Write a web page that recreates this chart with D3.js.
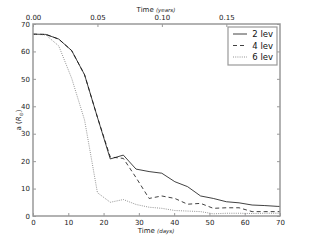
<!DOCTYPE html>
<html>
<head>
<meta charset="utf-8">
<script src="https://cdn.jsdelivr.net/npm/d3@7"></script>
<style>
  body { margin: 0; background: #fff; }
  text { font-family: "DejaVu Sans", sans-serif; }
</style>
</head>
<body>
<div id="chart"></div>
<script>
// sampled every 0.01 yr
const days = [0, 3.65, 7.3, 10.96, 14.61, 18.26, 21.9, 25.6, 29.2, 32.9, 36.5, 40.2, 43.8, 47.5, 51.1, 54.8, 58.4, 62.1, 65.7, 69.4, 70];
const lev2 = [66.3, 66.2, 64.5, 60.3, 51.5, 36.0, 20.8, 22.2, 17.1, 16.2, 15.6, 12.5, 10.7, 7.3, 6.4, 5.2, 4.8, 4.0, 3.8, 3.5, 3.5];
const lev4 = [66.3, 66.2, 64.5, 60.3, 51.5, 36.0, 21.5, 21.0, 14.0, 6.4, 7.3, 6.4, 4.3, 4.6, 2.8, 3.0, 3.0, 1.6, 1.6, 1.6, 1.6];
const lev6 = [66.3, 66.0, 62.0, 50.2, 35.0, 8.5, 5.0, 6.0, 4.2, 3.2, 2.8, 2.0, 1.8, 1.6, 0.8, 1.0, 1.0, 0.9, 1.0, 1.0, 1.0];
const seriesNames = ["2 lev", "4 lev", "6 lev"];
const xTicks = [0, 10, 20, 30, 40, 50, 60, 70];
const yTicks = [0, 10, 20, 30, 40, 50, 60, 70];
const yearTicks = [0, 0.05, 0.10, 0.15];

const width = 313, height = 240;
const margin = {left: 33, right: 33, top: 24, bottom: 24};

const svg = d3.select("#chart").append("svg")
    .attr("width", width)
    .attr("height", height);

const x = d3.scaleLinear().domain([0, 70]).range([margin.left, width - margin.right]);
const y = d3.scaleLinear().domain([0, 70]).range([height - margin.bottom, margin.top]);
const xYears = d3.scaleLinear().domain([0, 70 / 365.25]).range(x.range());

const spine = "#999";
const fs = 7;

function styleAxis(g) {
    g.select(".domain").remove();
    g.selectAll(".tick line").attr("stroke", "#555").attr("stroke-width", 0.6);
    g.selectAll(".tick text").style("font-size", fs + "px").attr("fill", "#222");
}

// bottom
svg.append("g")
    .attr("transform", `translate(0,${y(0)})`)
    .call(d3.axisBottom(x).tickValues(xTicks).tickFormat(d3.format("d")).tickSizeInner(-3).tickSizeOuter(0).tickPadding(4))
    .call(styleAxis);
// top (years)
svg.append("g")
    .attr("transform", `translate(0,${y(70)})`)
    .call(d3.axisTop(xYears).tickValues(yearTicks).tickFormat(d3.format(".2f")).tickSizeInner(-3).tickSizeOuter(0).tickPadding(4))
    .call(styleAxis);
// left
svg.append("g")
    .attr("transform", `translate(${x(0)},0)`)
    .call(d3.axisLeft(y).tickValues(yTicks).tickFormat(d3.format("d")).tickSizeInner(-3).tickSizeOuter(0).tickPadding(3))
    .call(styleAxis);
// right
svg.append("g")
    .attr("transform", `translate(${x(70)},0)`)
    .call(d3.axisRight(y).tickValues(yTicks).tickFormat("").tickSizeInner(-3).tickSizeOuter(0))
    .call(styleAxis);

// lines
const lineGen = d3.line().x((d, i) => x(days[i])).y(d => y(d));
const styles = [
    {data: lev2, color: "#111", dash: null, w: 0.8},
    {data: lev4, color: "#111", dash: "4,3", w: 0.8},
    {data: lev6, color: "#777", dash: "1,1.2", w: 0.8}
];
styles.forEach(s => {
    svg.append("path")
        .datum(s.data)
        .attr("d", lineGen)
        .attr("fill", "none")
        .attr("stroke", s.color)
        .attr("stroke-width", s.w)
        .attr("stroke-dasharray", s.dash);
});

// frame
svg.append("rect")
    .attr("x", x(0)).attr("y", y(70))
    .attr("width", x(70) - x(0)).attr("height", y(0) - y(70))
    .attr("fill", "none").attr("stroke", spine).attr("stroke-width", 1.5);

// legend
const lg = svg.append("g").attr("transform", "translate(228,27)");
lg.append("rect").attr("width", 49).attr("height", 38)
    .attr("fill", "#fff").attr("stroke", spine).attr("stroke-width", 1.2);
seriesNames.forEach((name, i) => {
    const yy = 7 + i * 11.5;
    lg.append("line").attr("x1", 5).attr("x2", 19).attr("y1", yy).attr("y2", yy)
        .attr("stroke", styles[i].color).attr("stroke-width", 0.8)
        .attr("stroke-dasharray", styles[i].dash);
    lg.append("text").attr("x", 45).attr("y", yy + 3).attr("text-anchor", "end")
        .style("font-size", "8.5px").attr("fill", "#111").text(name);
});

// axis labels
const bl = svg.append("text").attr("x", 156).attr("y", 233).attr("text-anchor", "middle")
    .style("font-size", fs + "px").attr("fill", "#222");
bl.append("tspan").text("Time ");
bl.append("tspan").style("font-style", "italic").style("font-size", "5.5px").text("(days)");

const tl = svg.append("text").attr("x", 156).attr("y", 12).attr("text-anchor", "middle")
    .style("font-size", fs + "px").attr("fill", "#222");
tl.append("tspan").text("Time ");
tl.append("tspan").style("font-style", "italic").style("font-size", "5.5px").text("(years)");

const yl = svg.append("text").attr("transform", `translate(21,${(y(0) + y(70)) / 2}) rotate(-90)`)
    .attr("text-anchor", "middle").style("font-size", fs + "px").attr("fill", "#222");
yl.append("tspan").text("a (");
yl.append("tspan").style("font-style", "italic").text("R");
yl.append("tspan").attr("dy", 1.5).style("font-size", "5px").text("⊙");
yl.append("tspan").attr("dy", -1.5).text(")");
</script>
</body>
</html>
